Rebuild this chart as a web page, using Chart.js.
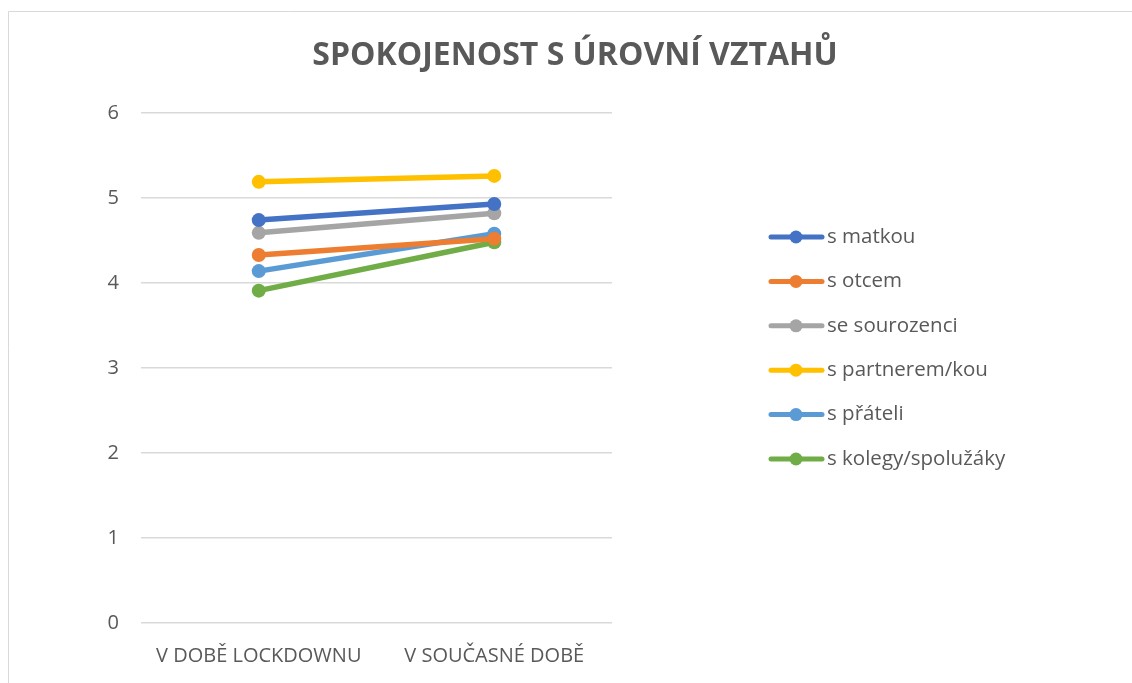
<!DOCTYPE html>
<html>
<head>
<meta charset="utf-8">
<script src="https://cdn.jsdelivr.net/npm/chart.js@4/dist/chart.umd.min.js"></script>
<style>
  html, body { margin: 0; padding: 0; background: #fff; }
  #wrap { width: 1132px; height: 683px; position: relative; }
</style>
</head>
<body>
<div id="wrap"><canvas id="relChart" width="1132" height="683"></canvas></div>
<script>
const categories = ['V DOBĚ LOCKDOWNU', 'V SOUČASNÉ DOBĚ'];
const seriesNames = ['s matkou', 's otcem', 'se sourozenci', 's partnerem/kou', 's přáteli', 's kolegy/spolužáky'];
const matkou = [4.74, 4.93];
const otcem = [4.33, 4.52];
const sourozenci = [4.59, 4.82];
const partnerem = [5.19, 5.26];
const prateli = [4.14, 4.58];
const kolegy = [3.91, 4.48];
const colors = ['#4472C4', '#ED7D31', '#A5A5A5', '#FFC000', '#5B9BD5', '#70AD47'];
const yTicks = [0, 1, 2, 3, 4, 5, 6];
const chartTitle = 'SPOKOJENOST S ÚROVNÍ VZTAHŮ';

const FONT = '"Open Sans", "Liberation Sans", sans-serif';
const TEXT = '#595959';

const seriesValues = [matkou, otcem, sourozenci, partnerem, prateli, kolegy];

// outer frame + title centred across the whole picture
const frame = {
    id: 'frame',
    beforeDraw(chart) {
        const ctx = chart.ctx;
        ctx.save();
        ctx.strokeStyle = '#d9d9d9';
        ctx.lineWidth = 1;
        ctx.beginPath();
        ctx.moveTo(8.5, 683);
        ctx.lineTo(8.5, 11.5);
        ctx.lineTo(1132, 11.5);
        ctx.stroke();
        ctx.fillStyle = TEXT;
        ctx.font = 'bold 32px ' + FONT;
        ctx.textAlign = 'center';
        ctx.textBaseline = 'middle';
        ctx.fillText(chartTitle, 575, 56);
        ctx.restore();
    }
};

// legend drawn by hand: line + marker, label on the right
const sideLegend = {
    id: 'sideLegend',
    afterDraw(chart) {
        const ctx = chart.ctx;
        ctx.save();
        chart.data.datasets.forEach((ds, i) => {
            const y = 237 + i * 44.4;
            ctx.strokeStyle = ds.borderColor;
            ctx.lineWidth = 5;
            ctx.lineCap = 'round';
            ctx.beginPath();
            ctx.moveTo(771, y);
            ctx.lineTo(822, y);
            ctx.stroke();
            ctx.fillStyle = ds.borderColor;
            ctx.beginPath();
            ctx.arc(796, y, 6.5, 0, Math.PI * 2);
            ctx.fill();
            ctx.fillStyle = TEXT;
            ctx.font = '20.5px ' + FONT;
            ctx.textAlign = 'left';
            ctx.textBaseline = 'middle';
            ctx.fillText(ds.label, 827, y);
        });
        ctx.restore();
    }
};

new Chart(document.getElementById('relChart'), {
    type: 'line',
    data: {
        labels: categories,
        datasets: seriesNames.map((name, i) => ({
            label: name,
            data: seriesValues[i],
            borderColor: colors[i],
            backgroundColor: colors[i],
            borderWidth: 5.5,
            pointRadius: 7,
            pointHoverRadius: 7,
            pointBorderWidth: 0,
            tension: 0
        }))
    },
    options: {
        responsive: false,
        animation: false,
        layout: { padding: { left: 0, right: 520, top: 113, bottom: 0 } },
        plugins: {
            legend: { display: false },
            tooltip: { enabled: false }
        },
        scales: {
            x: {
                offset: true,
                grid: { display: false },
                border: { display: false },
                ticks: { color: TEXT, font: { family: FONT, size: 20 }, padding: 13 },
                afterFit: s => { s.height = 60; }
            },
            y: {
                min: 0,
                max: 6,
                afterBuildTicks: s => { s.ticks = yTicks.map(v => ({ value: v })); },
                grid: { color: '#d9d9d9', lineWidth: 1.5, drawTicks: false },
                border: { display: false },
                ticks: { color: TEXT, font: { family: FONT, size: 20 }, padding: 22 },
                afterFit: s => { s.width = 141; }
            }
        }
    },
    plugins: [frame, sideLegend]
});
</script>
</body>
</html>
